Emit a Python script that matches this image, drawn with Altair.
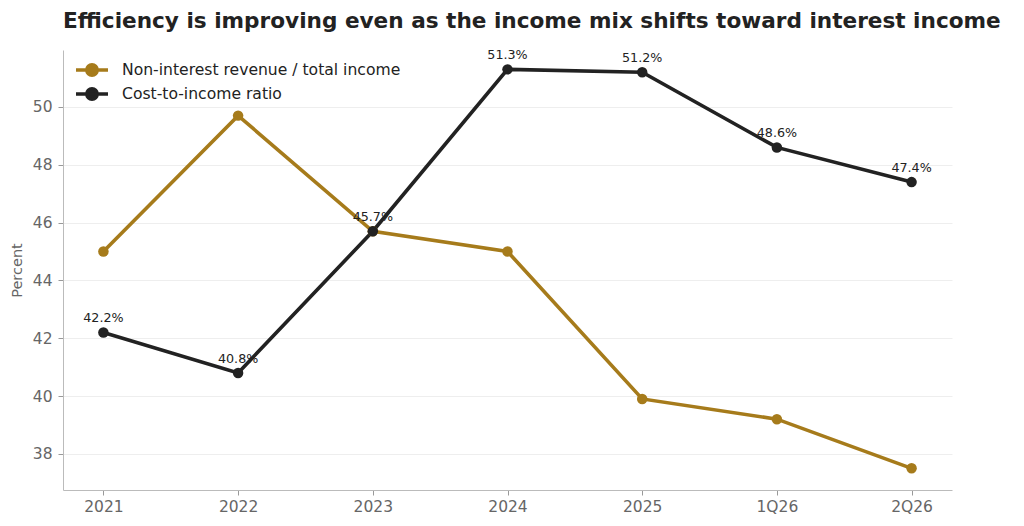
import altair as alt
import pandas as pd

periods = ["2021", "2022", "2023", "2024", "2025", "1Q26", "2Q26"]
non_interest = [45.0, 49.7, 45.7, 45.0, 39.9, 39.2, 37.5]
cost_income = [42.2, 40.8, 45.7, 51.3, 51.2, 48.6, 47.4]
series_names = ["Non-interest revenue / total income", "Cost-to-income ratio"]
series_colors = ["#A67B1B", "#222222"]

rows = []
for i, p in enumerate(periods):
    rows.append({"period": p, "series": series_names[0], "value": non_interest[i], "order": i})
    rows.append({"period": p, "series": series_names[1], "value": cost_income[i], "order": i})
df = pd.DataFrame(rows)

FONT = "DejaVu Sans"

x = alt.X("period:N", sort=periods, title=None,
          scale=alt.Scale(type="point", padding=0.3),
          axis=alt.Axis(labelAngle=0, labelFontSize=15.5, labelColor="#666666",
                        tickColor="#999999", tickSize=5, labelPadding=4,
                        domainColor="#bbbbbb", grid=False))
y = alt.Y("value:Q", title="Percent",
          scale=alt.Scale(domain=[36.75, 51.97], nice=False, zero=False),
          axis=alt.Axis(values=[38, 40, 42, 44, 46, 48, 50], labelFontSize=15.5,
                        labelColor="#666666", tickColor="#999999", tickSize=5,
                        labelPadding=6, domainColor="#bbbbbb", grid=True,
                        gridColor="#eeeeee", titleFontSize=14.5, titleColor="#666666",
                        titleFontWeight="normal", titlePadding=8))

color = alt.Color("series:N",
                  scale=alt.Scale(domain=series_names, range=series_colors),
                  legend=alt.Legend(title=None, orient="none", legendX=19, legendY=10,
                                    padding=0, labelFontSize=15.6, labelColor="#222222",
                                    labelLimit=0,
                                    symbolType="M -2 0 L 2 0 M -0.65 0 A 0.65 0.65 0 1 1 0.65 0 A 0.65 0.65 0 1 1 -0.65 0 Z",
                                    symbolSize=256, symbolStrokeWidth=3.5,
                                    labelOffset=20, rowPadding=-2, labelFont=FONT))

base = alt.Chart(df)
lines = base.mark_line(strokeWidth=3.6).encode(x=x, y=y, color=color, order="order:Q")
points = base.mark_point(filled=True, size=110, opacity=1).encode(
    x=x, y=y, color=color, fill=alt.Fill("series:N", scale=alt.Scale(domain=series_names, range=series_colors), legend=None))
labels = base.transform_filter(alt.datum.series == series_names[1]).transform_calculate(
    lab=alt.expr.format(alt.datum.value, ".1f") + "%"
).mark_text(fontSize=12.7, dy=-10, baseline="alphabetic", color="#222222", font=FONT).encode(
    x=x, y=y, text="lab:N")

chart = alt.layer(lines, points, labels).properties(
    width=889, height=440,
    title=alt.TitleParams("Efficiency is improving even as the income mix shifts toward interest income",
                          anchor="start", fontSize=21.6, fontWeight="bold", color="#222222",
                          font=FONT, offset=0, baseline="alphabetic", frame="group"),
    autosize=alt.AutoSizeParams(type="none"),
    padding={"left": 55, "top": 42, "right": 64, "bottom": 28},
).configure(font=FONT).configure_view(stroke=None)

chart.save("out.html", embed_options={"renderer": "svg", "actions": False})
